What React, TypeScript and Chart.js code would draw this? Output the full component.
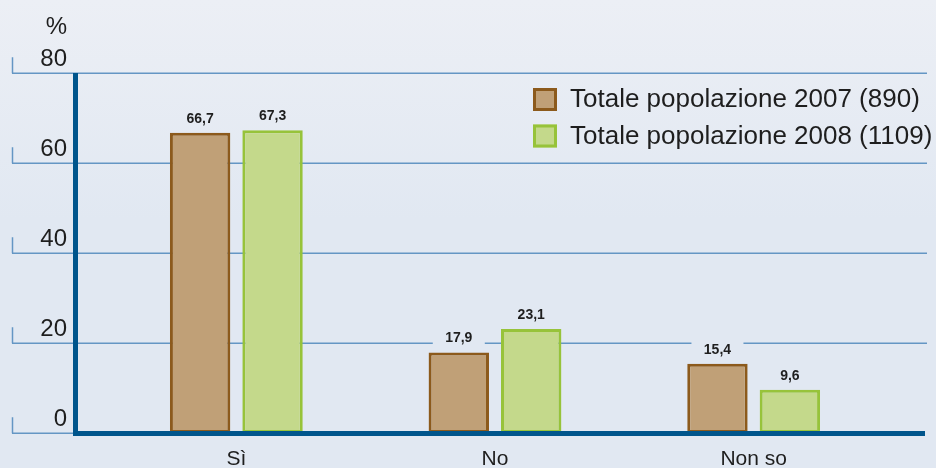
import React, { useEffect, useRef } from "react";
import { Chart, registerables } from "chart.js";

Chart.register(...registerables);

const categories = ["Sì", "No", "Non so"];
const values2007 = [66.7, 17.9, 15.4];
const values2008 = [67.3, 23.1, 9.6];
const seriesLabels = ["Totale popolazione 2007 (890)", "Totale popolazione 2008 (1109)"];
const yTicks = [0, 20, 40, 60, 80];
const yUnit = "%";

const FONT = "'Liberation Sans', Arial, Helvetica, sans-serif";
const GRID = "#6496c4";
const AXIS = "#00558c";
const TEXT = "#1e1e1e";

const fmt = (v: number) => v.toFixed(1).replace(".", ",");

function makeBg(ctx: CanvasRenderingContext2D) {
  const g = ctx.createLinearGradient(0, 0, 0, 220);
  g.addColorStop(0, "#eceff5");
  g.addColorStop(1, "#e1e8f2");
  return g;
}

const decor = {
  id: "decor",
  beforeDraw(chart: any) {
    const { ctx, scales } = chart;
    const y = scales.y;
    ctx.save();
    ctx.fillStyle = makeBg(ctx);
    ctx.fillRect(0, 0, chart.width, chart.height);
    ctx.strokeStyle = GRID;
    ctx.lineWidth = 1.5;
    for (const t of yTicks) {
      const py = Math.round(y.getPixelForValue(t)) + 0.25;
      ctx.beginPath();
      ctx.moveTo(12, py);
      ctx.lineTo(t === 0 ? 76 : 927, py);
      ctx.stroke();
      ctx.beginPath();
      ctx.moveTo(12.5, py);
      ctx.lineTo(12.5, py - 16);
      ctx.stroke();
      ctx.fillStyle = TEXT;
      ctx.font = `24px ${FONT}`;
      ctx.textAlign = "right";
      ctx.textBaseline = "alphabetic";
      ctx.fillText(String(t), 67, py - 7);
    }
    ctx.font = `24px ${FONT}`;
    ctx.textAlign = "right";
    ctx.fillText(yUnit, 67, 34);
    ctx.restore();
  },
  afterDatasetsDraw(chart: any) {
    const { ctx, scales } = chart;
    const x = scales.x;
    const y = scales.y;
    const y0 = y.getPixelForValue(0);
    const yTop = y.getPixelForValue(yTicks[yTicks.length - 1]);
    ctx.save();
    // axes
    ctx.strokeStyle = AXIS;
    ctx.lineWidth = 5;
    ctx.beginPath();
    ctx.moveTo(75.5, yTop);
    ctx.lineTo(75.5, y0 + 3);
    ctx.stroke();
    ctx.beginPath();
    ctx.moveTo(73, y0 + 0.5);
    ctx.lineTo(925, y0 + 0.5);
    ctx.stroke();

    // value labels
    const bg = makeBg(ctx);
    chart.data.datasets.forEach((ds: any, di: number) => {
      const meta = chart.getDatasetMeta(di);
      meta.data.forEach((bar: any, i: number) => {
        const cy = bar.y - 14;
        ctx.fillStyle = bg;
        ctx.fillRect(bar.x - 26, cy - 8, 52, 16);
        ctx.fillStyle = TEXT;
        ctx.font = `bold 14px ${FONT}`;
        ctx.textAlign = "center";
        ctx.textBaseline = "middle";
        ctx.fillText(fmt(ds.data[i]), bar.x, cy);
      });
    });

    // category labels
    ctx.fillStyle = TEXT;
    ctx.font = `21px ${FONT}`;
    ctx.textAlign = "center";
    ctx.textBaseline = "alphabetic";
    categories.forEach((c, i) => {
      ctx.fillText(c, x.getPixelForValue(i), 465);
    });

    // legend
    chart.data.datasets.forEach((ds: any, di: number) => {
      const top = 88 + di * 36.5;
      ctx.fillStyle = ds.backgroundColor;
      ctx.fillRect(533, top, 24, 23);
      ctx.strokeStyle = ds.borderColor;
      ctx.lineWidth = 3;
      ctx.strokeRect(534.5, top + 1.5, 21, 20);
      ctx.fillStyle = TEXT;
      ctx.font = `26px ${FONT}`;
      ctx.textAlign = "left";
      ctx.textBaseline = "alphabetic";
      ctx.fillText(seriesLabels[di], 570, top + 19);
    });
    ctx.restore();
  },
};

export default function App() {
  const ref = useRef<HTMLCanvasElement | null>(null);
  useEffect(() => {
    if (!ref.current) return;
    const chart = new Chart(ref.current, {
      type: "bar",
      data: {
        labels: categories,
        datasets: [
          {
            label: seriesLabels[0],
            data: values2007,
            backgroundColor: "#c0a077",
            borderColor: "#8c5a1c",
            borderWidth: 3,
            borderSkipped: false,
          },
          {
            label: seriesLabels[1],
            data: values2008,
            backgroundColor: "#c4d98b",
            borderColor: "#97c33a",
            borderWidth: 3,
            borderSkipped: false,
          },
        ],
      },
      options: {
        responsive: false,
        animation: false,
        devicePixelRatio: 1,
        layout: { padding: { left: 107, right: 53, top: 73, bottom: 35 } },
        datasets: { bar: { barPercentage: 0.834, categoryPercentage: 0.56 } },
        scales: {
          x: { type: "category", offset: true, display: false },
          y: { min: 0, max: 80, display: false },
        },
        plugins: { legend: { display: false }, tooltip: { enabled: false } },
      },
      plugins: [decor],
    } as any);
    return () => chart.destroy();
  }, []);
  return (
    <div style={{ position: "absolute", left: 0, top: 0, width: 936, height: 468 }}>
      <canvas ref={ref} width={936} height={468} style={{ display: "block" }} />
    </div>
  );
}
